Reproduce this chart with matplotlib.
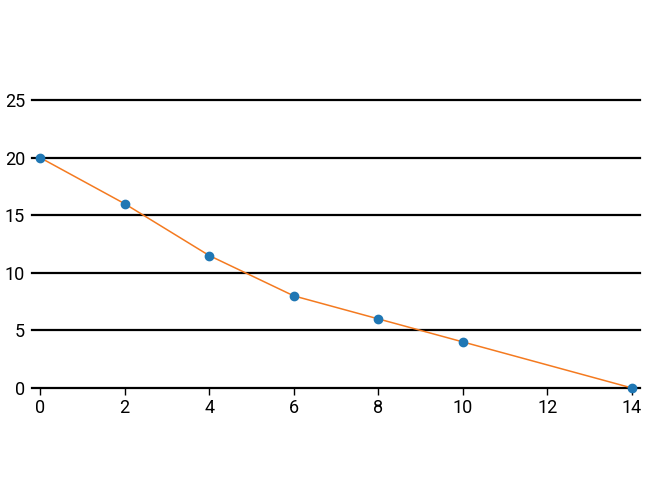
import matplotlib
matplotlib.use("Agg")
import matplotlib.pyplot as plt

x_vals = [0, 2, 4, 6, 8, 10, 14]
y_vals = [20, 16, 11.5, 8, 6, 4, 0]
x_ticks = [0, 2, 4, 6, 8, 10, 12, 14]
y_ticks = [0, 5, 10, 15, 20, 25]

plt.rcParams['font.family'] = ['Roboto', 'DejaVu Sans']

fig = plt.figure(figsize=(6.46, 5.0), dpi=100)
ax = fig.add_axes([32/646, 1-388/500, 608/646, 288/500])
ax.set_xlim(-0.19, 14.19)
ax.set_ylim(0, 25)
for y in y_ticks:
    ax.axhline(y, color='black', lw=1.6, zorder=1, clip_on=False)
ax.plot(x_vals, y_vals, color='#f47a20', lw=1.1, zorder=2, clip_on=False)
ax.plot(x_vals, y_vals, 'o', color='#1f77b4', ms=6, zorder=3, clip_on=False)
for s in ax.spines.values():
    s.set_visible(False)
ax.set_xticks(x_ticks)
ax.set_yticks(y_ticks)
ax.tick_params(axis='x', length=5, width=1, color='black', labelsize=13, pad=3)
ax.tick_params(axis='y', length=0, labelsize=13, pad=5)
for lab in ax.get_yticklabels():
    lab.set_verticalalignment('center_baseline')
fig.savefig('out.png', dpi=100)
